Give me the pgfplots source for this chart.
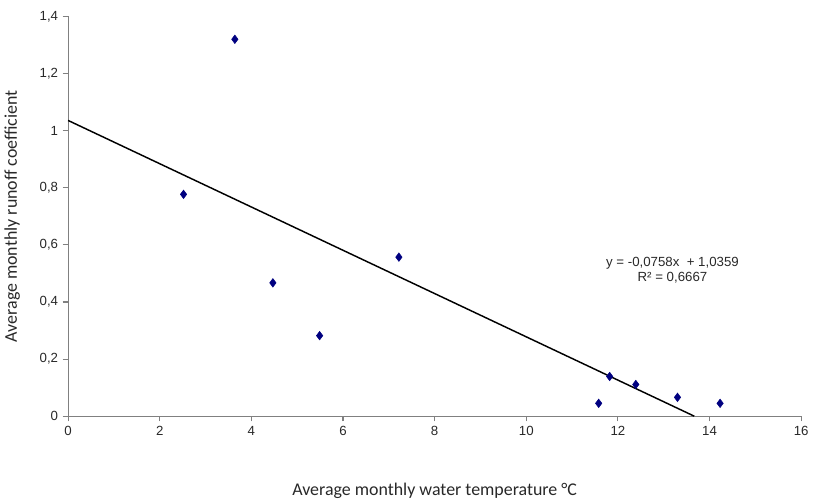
\documentclass[border={0pt 0pt 0pt 5pt}]{standalone}
\usepackage{fontspec}
\setmainfont{Liberation Sans}
\newfontfamily\labelfont{Carlito}
\usepackage{pgfplots}
\pgfplotsset{compat=1.18}
\definecolor{ptblue}{RGB}{0,0,128}
\definecolor{axgray}{RGB}{128,128,128}
\definecolor{txtgray}{RGB}{40,40,40}

\begin{document}
\begin{tikzpicture}
  \begin{axis}[
    scale only axis,
    width=553pt, height=301.5pt,
    xmin=0, xmax=16, ymin=0, ymax=1.4,
    xtick={0,2,...,16},
    ytick={0,0.2,...,1.4},
    axis lines*=left,
    axis line style={axgray, line width=0.8pt},
    tick align=outside,
    major tick length=4pt,
    tick style={axgray, line width=0.8pt},
    ticklabel style={font=\fontsize{10}{11}\selectfont, text=txtgray},
    /pgf/number format/.cd, use comma, assume math mode=true, 1000 sep={},
    /pgfplots/.cd,
    xlabel={Average monthly water temperature °C},
    ylabel={Average monthly runoff coefficient},
    label style={font=\labelfont\fontsize{13.5}{15}\selectfont, text=txtgray},
    xlabel style={yshift=-29pt},
    ylabel style={yshift=8pt},
    clip=false,
  ]
    \addplot[only marks, mark=diamond*, mark size=3.2pt, ptblue, mark options={fill=ptblue}]
      coordinates {
        (2.52, 0.777)
        (3.64, 1.320)
        (4.47, 0.467)
        (5.49, 0.282)
        (7.22, 0.557)
        (11.58, 0.045)
        (11.82, 0.139)
        (12.39, 0.111)
        (13.30, 0.066)
        (14.23, 0.045)
      };
    \addplot[black, line width=1.1pt] coordinates {(0, 1.0359) (13.666, 0)};
    \node[align=center, font=\fontsize{10}{11}\selectfont, text=txtgray]
      at (axis cs:13.19, 0.512) {y = -0,0758x \ + 1,0359\\R² = 0,6667};
  \end{axis}
\end{tikzpicture}
\end{document}
